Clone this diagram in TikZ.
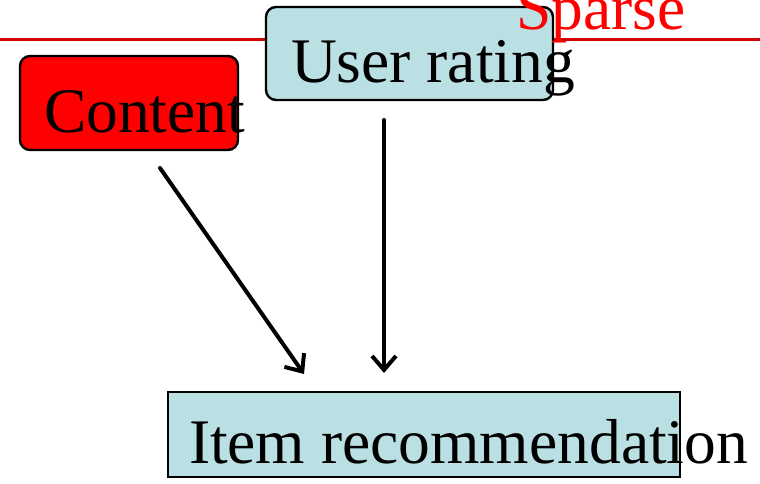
\documentclass[tikz,border=0pt]{standalone}
\usepackage{fontspec}
\setmainfont{Liberation Serif}
\usetikzlibrary{arrows.meta,calc}

\definecolor{paleteal}{RGB}{187,224,227}
\definecolor{linered}{RGB}{210,0,0}

\tikzset{
  box/.style={draw=black, line width=2.4pt, inner sep=0pt, outer sep=0pt},
  roundbox/.style={box, rounded corners=10pt},
  label text/.style={anchor=base west, inner sep=0pt, outer sep=0pt,
    font=\fontsize{63.5}{70}\selectfont},
  flow/.style={line width=4pt, line cap=round,
    -{Straight Barb[length=14pt,width=24pt,line width=4pt]}}
}

\begin{document}
\begin{tikzpicture}[x=1pt,y=-1pt]
  \useasboundingbox (0,0) rectangle (760,484);
  \clip (0,0) rectangle (760,484);

  % horizontal rule across the top
  \coordinate (ruleL) at (0,40);
  \coordinate (ruleR) at (760,40);
  \draw[linered, line width=3pt] (ruleL) -- (ruleR);

  % boxes
  \node[roundbox, fill=red, minimum width=218pt, minimum height=94pt] (content) at (129,103) {};
  \node[roundbox, fill=paleteal, minimum width=287pt, minimum height=93pt] (rating) at (409.5,53.5) {};
  \node[box, fill=paleteal, minimum width=512pt, minimum height=85pt] (item) at (424,434.5) {};

  % texts
  \node[label text] (contentT) at (44,132) {Content};
  \node[label text] (ratingT) at (291,83) {User rating};
  \node[label text] (itemT) at (189,463) {Item recommendation};
  \node[label text, text=red] (sparseT) at (516,30) {Sparse};

  % connectors
  \coordinate (cTail) at ($(content.south)+(31,18)$);
  \coordinate (cHead) at ($(item.north)+(-120,-18)$);
  \coordinate (rTail) at ($(rating.south)+(-25.5,20)$);
  \coordinate (rHead) at ($(item.north)+(-40,-19)$);
  \draw[flow] (cTail) -- (cHead);
  \draw[flow] (rTail) -- (rHead);
\end{tikzpicture}
\end{document}
